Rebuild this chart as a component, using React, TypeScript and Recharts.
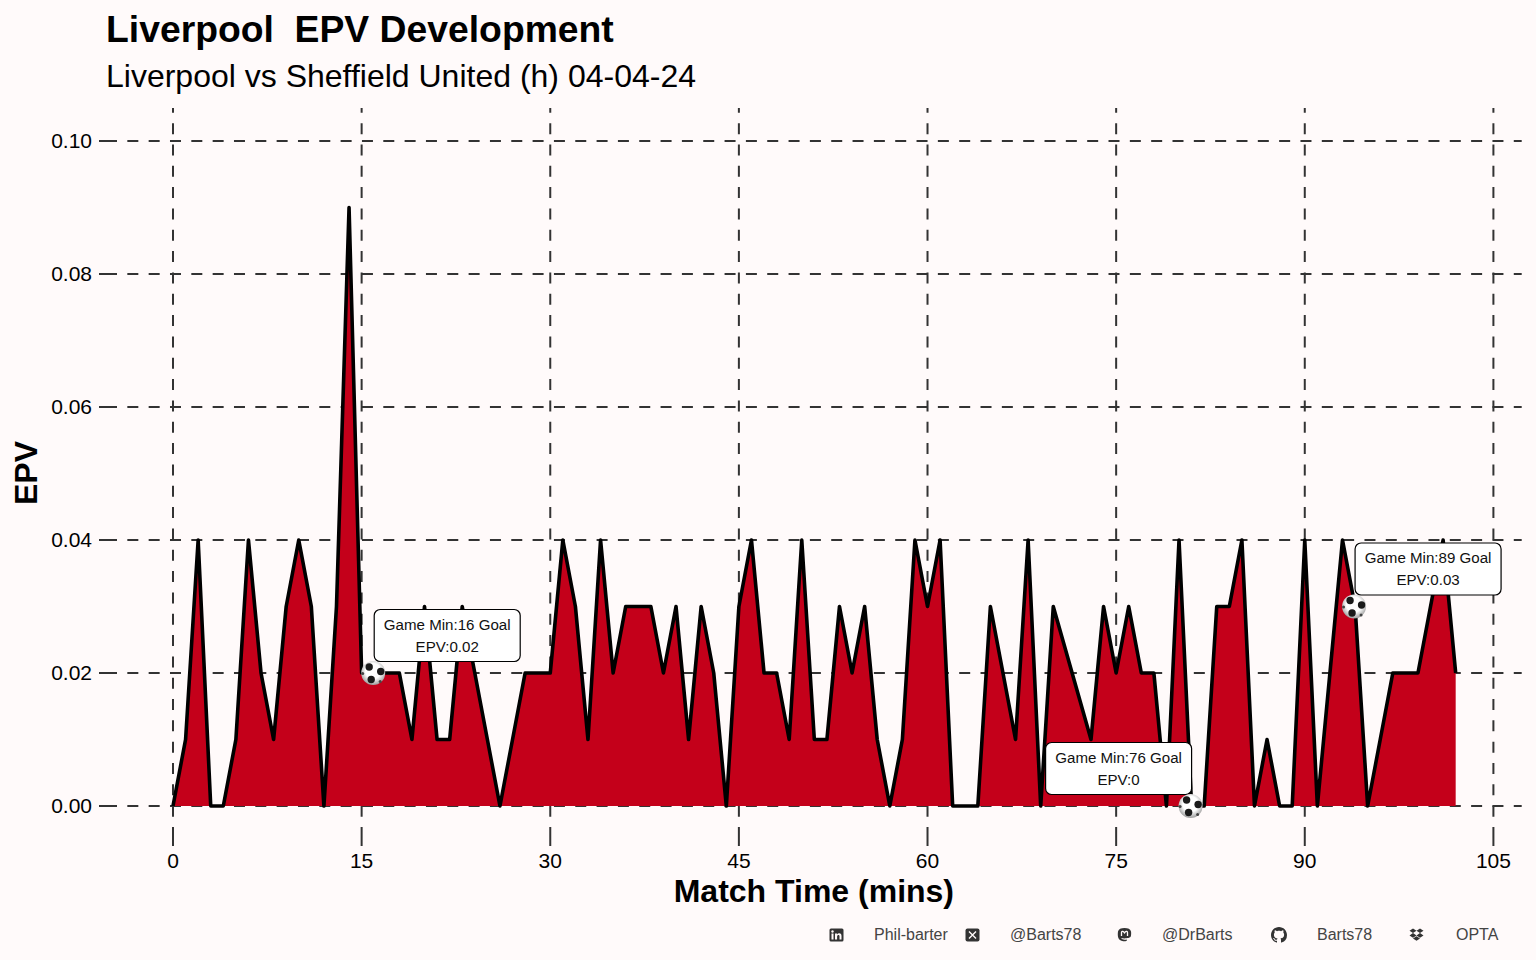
import { Area, CartesianGrid, ComposedChart, Scatter, XAxis, YAxis } from "recharts";

// minutes 71 and 72 have no event, the line runs straight through them
const minutes = [
  0, 1, 2, 3, 4, 5, 6, 7, 8, 9, 10, 11, 12, 13, 14, 15, 16, 17, 18, 19, 20, 21, 22, 23, 24, 25, 26,
  27, 28, 29, 30, 31, 32, 33, 34, 35, 36, 37, 38, 39, 40, 41, 42, 43, 44, 45, 46, 47, 48, 49, 50,
  51, 52, 53, 54, 55, 56, 57, 58, 59, 60, 61, 62, 63, 64, 65, 66, 67, 68, 69, 70, 73, 74, 75, 76,
  77, 78, 79, 80, 81, 82, 83, 84, 85, 86, 87, 88, 89, 90, 91, 92, 93, 94, 95, 96, 97, 98, 99, 100,
  101, 102,
];
const epvValues = [
  0, 0.01, 0.04, 0, 0, 0.01, 0.04, 0.02, 0.01, 0.03, 0.04, 0.03, 0, 0.03, 0.09, 0.02, 0.02, 0.02,
  0.02, 0.01, 0.03, 0.01, 0.01, 0.03, 0.02, 0.01, 0, 0.01, 0.02, 0.02, 0.02, 0.04, 0.03, 0.01, 0.04,
  0.02, 0.03, 0.03, 0.03, 0.02, 0.03, 0.01, 0.03, 0.02, 0, 0.03, 0.04, 0.02, 0.02, 0.01, 0.04, 0.01,
  0.01, 0.03, 0.02, 0.03, 0.01, 0, 0.01, 0.04, 0.03, 0.04, 0, 0, 0, 0.03, 0.02, 0.01, 0.04, 0, 0.03,
  0.01, 0.03, 0.02, 0.03, 0.02, 0.02, 0, 0.04, 0, 0, 0.03, 0.03, 0.04, 0, 0.01, 0, 0, 0.04, 0, 0.02,
  0.04, 0.03, 0, 0.01, 0.02, 0.02, 0.02, 0.03, 0.04, 0.02,
];

const goalMinutes = [16, 81, 94];
const goalEpv = [0.02, 0, 0.03];
const goalGameMinutes = [16, 76, 89];
const goalEpvLabels = ["0.02", "0", "0.03"];

const xTicks = [0, 15, 30, 45, 60, 75, 90, 105];
const yTicks = [0, 0.02, 0.04, 0.06, 0.08, 0.1];

const rows = minutes.map((minute, i) => ({ minute, epv: epvValues[i] }));
const goalRows = goalMinutes.map((minute, i) => ({
  minute,
  epv: goalEpv[i],
  gameMinute: goalGameMinutes[i],
  epvLabel: goalEpvLabels[i],
}));

const FONT = "'Liberation Sans', Arial, sans-serif";
const BG = "#FFFAFA";
const INK = "#333333";

function GoalMarker({ cx, cy, payload }: any) {
  const side = payload.epv === 0 ? -1 : 1;
  const boxW = 146;
  const boxH = 52;
  const boxCx = cx + side * 73;
  const boxY = cy - 63.5;
  const bx = cx - 1;
  return (
    <g>
      <rect
        x={boxCx - boxW / 2}
        y={boxY}
        width={boxW}
        height={boxH}
        rx={6}
        fill="#fff"
        stroke="#000"
        strokeWidth={1.2}
      />
      <text x={boxCx} y={boxY + 20} textAnchor="middle" fontSize={15.1} fontFamily={FONT} fill="#111">
        {`Game Min:${payload.gameMinute} Goal`}
      </text>
      <text x={boxCx} y={boxY + 42} textAnchor="middle" fontSize={15.1} fontFamily={FONT} fill="#111">
        {`EPV:${payload.epvLabel}`}
      </text>
      <circle cx={bx} cy={cy} r={12} fill="url(#ballShade)" />
      <circle cx={bx - 4} cy={cy - 6} r={3.7} fill="#1a1a1a" />
      <circle cx={bx + 7.5} cy={cy - 1.5} r={3.7} fill="#1a1a1a" />
      <circle cx={bx - 2} cy={cy + 6.5} r={3.7} fill="#1a1a1a" />
      <circle cx={bx - 10.5} cy={cy + 0.5} r={1.5} fill="#444" />
      <circle cx={bx + 7} cy={cy + 8.5} r={1.5} fill="#444" />
    </g>
  );
}

function Icon({ left, width, viewBox, children }: any) {
  return (
    <svg
      style={{ position: "absolute", left, top: 927 }}
      width={width}
      height={16}
      viewBox={viewBox}
      fill="#333"
    >
      {children}
    </svg>
  );
}

const credits: [string, number][] = [
  ["Phil-barter", 874],
  ["@Barts78", 1010],
  ["@DrBarts", 1162],
  ["Barts78", 1317],
  ["OPTA", 1456],
];

export default function App() {
  return (
    <div
      style={{
        position: "absolute",
        left: 0,
        top: 0,
        width: 1536,
        height: 960,
        background: BG,
        fontFamily: FONT,
        overflow: "hidden",
      }}
    >
      <div
        style={{
          position: "absolute",
          left: 106,
          top: 8,
          fontSize: 37.3,
          fontWeight: 700,
          whiteSpace: "pre",
          color: "#000",
        }}
      >
        Liverpool  EPV Development
      </div>
      <div
        style={{
          position: "absolute",
          left: 106,
          top: 58,
          fontSize: 32,
          whiteSpace: "pre",
          color: "#000",
        }}
      >
        Liverpool vs Sheffield United (h) 04-04-24
      </div>

      <ComposedChart
        width={1536}
        height={960}
        data={rows}
        margin={{ top: 108, right: 14.3, bottom: 0, left: 0 }}
      >
        <defs>
          <radialGradient id="ballShade" cx="50%" cy="42%" r="58%">
            <stop offset="55%" stopColor="#ffffff" />
            <stop offset="100%" stopColor="#9c9c9c" />
          </radialGradient>
        </defs>
        <CartesianGrid
          vertical={false}
          syncWithTicks
          stroke={INK}
          strokeWidth={2}
          strokeDasharray="11 10.33"
        />
        <CartesianGrid
          horizontal={false}
          syncWithTicks
          stroke={INK}
          strokeWidth={2}
          strokeDasharray="11 10.33"
          strokeDashoffset={6.2}
        />
        <XAxis
          dataKey="minute"
          type="number"
          domain={[-5.328, 107.25]}
          ticks={xTicks}
          interval={0}
          height={122}
          axisLine={false}
          tickLine={{ stroke: INK, strokeWidth: 2 }}
          tickSize={8}
          tickMargin={7.5}
          tick={{ fill: "#000", fontSize: 21, fontFamily: FONT }}
          label={{
            value: "Match Time (mins)",
            position: "insideBottom",
            offset: 58,
            fill: "#000",
            fontSize: 32,
            fontWeight: 700,
            fontFamily: FONT,
          }}
        />
        <YAxis
          type="number"
          domain={[-0.00481, 0.10496]}
          ticks={yTicks}
          interval={0}
          width={106}
          axisLine={false}
          tickLine={{ stroke: INK, strokeWidth: 2 }}
          tickSize={7}
          tickMargin={7}
          tickFormatter={(value: number) => value.toFixed(2)}
          tick={{ fill: "#000", fontSize: 21, fontFamily: FONT }}
          label={{
            value: "EPV",
            position: "insideLeft",
            angle: -90,
            offset: 26,
            textAnchor: "middle",
            fill: "#000",
            fontSize: 32,
            fontWeight: 700,
            fontFamily: FONT,
          }}
        />
        <Area
          type="linear"
          dataKey="epv"
          baseValue={0}
          fill="#C4001A"
          fillOpacity={1}
          stroke="#000"
          strokeWidth={3.6}
          strokeLinejoin="round"
          dot={false}
          activeDot={false}
          isAnimationActive={false}
        />
        <Scatter
          data={goalRows}
          dataKey="epv"
          shape={(props: any) => <GoalMarker {...props} />}
          isAnimationActive={false}
        />
      </ComposedChart>

      {credits.map(([label, left]) => (
        <div
          key={label}
          style={{
            position: "absolute",
            left,
            top: 926,
            fontSize: 16,
            color: "#444",
            whiteSpace: "pre",
          }}
        >
          {label}
        </div>
      ))}

      <Icon left={829} width={15} viewBox="0 0 15 16">
        <rect x="0.5" y="1.5" width="14" height="13" rx="1.5" />
        <rect x="2.5" y="6.5" width="2" height="6" fill={BG} />
        <circle cx="3.5" cy="4.5" r="1.2" fill={BG} />
        <path d="M6 6.5h2v1c.5-.8 1.2-1.2 2.2-1.2 1.6 0 2.3 1 2.3 2.8v3.4h-2v-3c0-1-.3-1.5-1-1.5-.8 0-1.4.5-1.4 1.6v2.9H6z" fill={BG} />
      </Icon>
      <Icon left={965} width={15} viewBox="0 0 15 16">
        <rect x="0.5" y="1.5" width="14" height="13" rx="2" />
        <path d="M4 4.500l7 7M11 4.500l-7 7" stroke={BG} strokeWidth="1.400" />
      </Icon>
      <Icon left={1117} width={15} viewBox="0 0 15 16">
        <path d="M7.500 1C4 1 1.500 2 1 4.500c-.3 1.600-.3 4.500.2 6 .6 2 2.400 3.500 5 3.700 1.300.1 2.600-.1 3.600-.5v-1.300c-1.600.4-5.300.5-5.500-1.300 2.200.5 9 .6 9.600-2.100.4-1.600.3-3.600.1-4.500C13.500 2 11 1 7.500 1z" />
        <path d="M4.500 9V5.500c0-1 1.500-1.500 2.200-.6l.8 1.100.8-1.100c.7-.9 2.200-.4 2.200.6V9" fill="none" stroke={BG} strokeWidth="1.300" />
      </Icon>
      <Icon left={1271} width={16} viewBox="0 0 16 16">
        <path d="M8 0C3.58 0 0 3.58 0 8c0 3.54 2.29 6.53 5.47 7.59.4.07.55-.17.55-.38 0-.19-.01-.82-.01-1.49-2.01.37-2.53-.49-2.69-.94-.09-.23-.48-.94-.82-1.13-.28-.15-.68-.52-.01-.53.63-.01 1.08.58 1.23.82.72 1.21 1.87.87 2.33.66.07-.52.28-.87.51-1.07-1.78-.2-3.64-.89-3.64-3.95 0-.87.31-1.59.82-2.15-.08-.2-.36-1.02.08-2.12 0 0 .67-.21 2.2.82.64-.18 1.32-.27 2-.27.68 0 1.36.09 2 .27 1.53-1.04 2.2-.82 2.2-.82.44 1.1.16 1.92.08 2.12.51.56.82 1.27.82 2.15 0 3.07-1.87 3.75-3.65 3.95.29.25.54.73.54 1.48 0 1.07-.01 1.93-.01 2.2 0 .21.15.46.55.38A8.013 8.013 0 0016 8c0-4.42-3.58-8-8-8z" />
      </Icon>
      <Icon left={1409} width={15} viewBox="0 0 15 16">
        <path d="M4 1.500l3.500 2.300L4 6.100.500 3.800zM11 1.500l3.500 2.300L11 6.100 7.500 3.800zM4 6.100l3.500 2.300L4 10.700.500 8.400zM11 6.100l3.500 2.300L11 10.700 7.500 8.400zM7.500 9.200l3.500 2.300-3.500 2.300L4 11.500z" />
      </Icon>
    </div>
  );
}
